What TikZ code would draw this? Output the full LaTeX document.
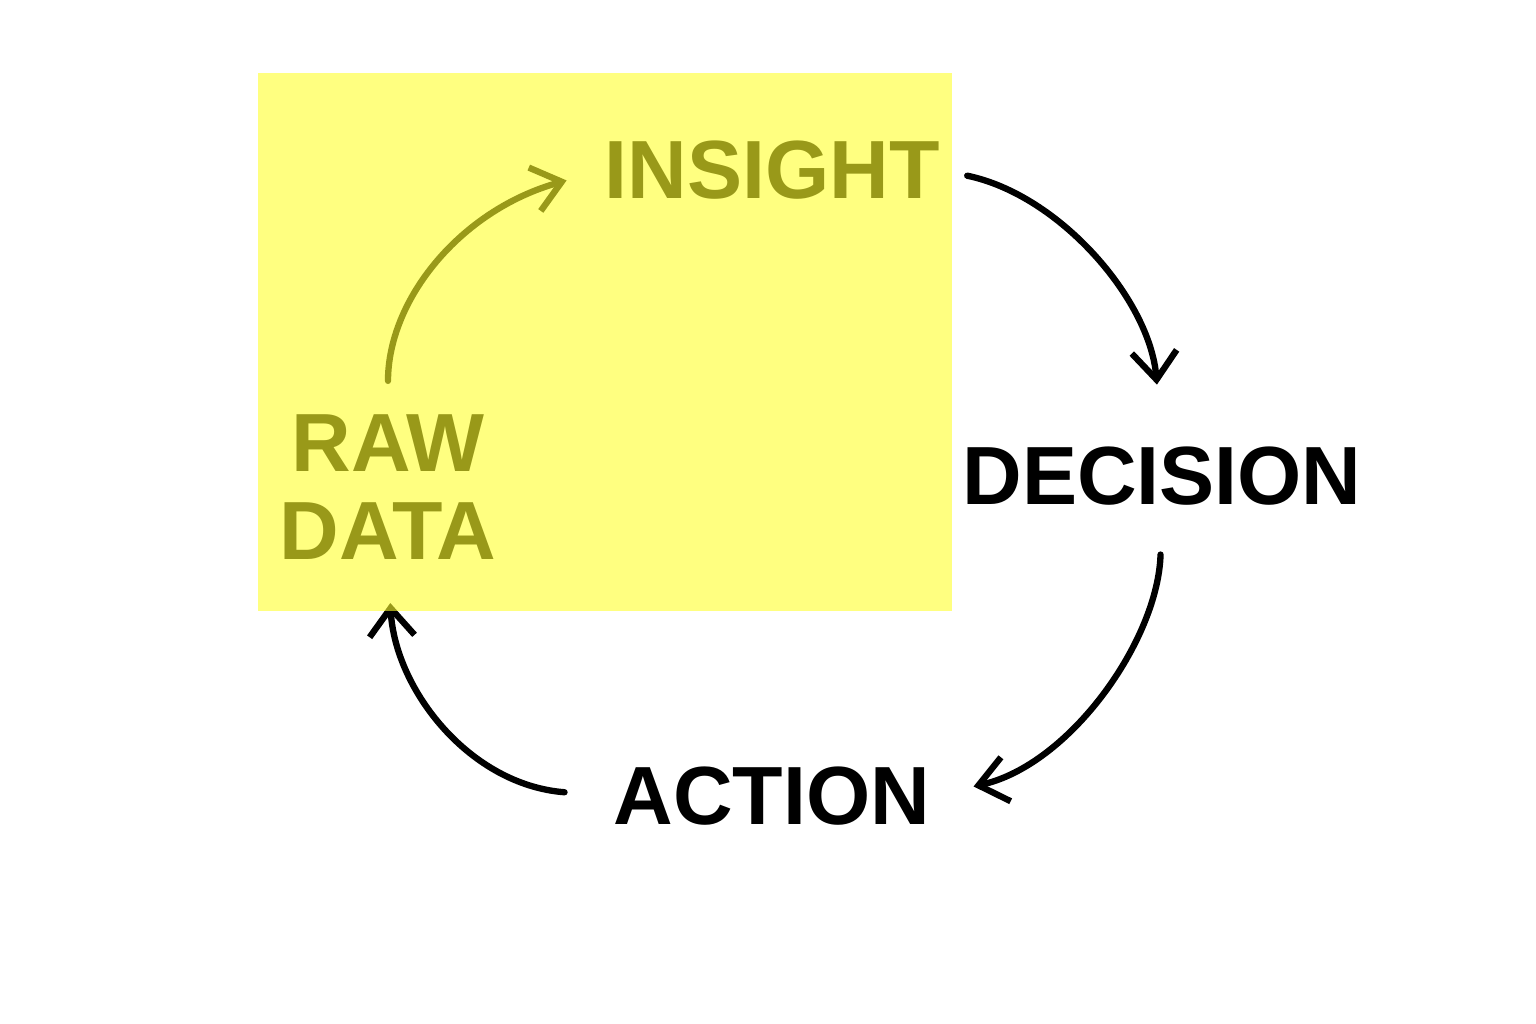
\documentclass[tikz,border=0pt]{standalone}
\usepackage{fontspec}
\setmainfont{Liberation Sans}
\usetikzlibrary{arrows.meta}
\definecolor{hilite}{rgb}{1,1,0.17}
\tikzset{
  word/.style={font=\fontsize{47}{50.5}\selectfont\bfseries, inner sep=0pt, align=center},
  flow/.style={line width=3.6pt, line cap=round, -{Straight Barb[length=0.56cm,width=0.9cm]}},
}
\begin{document}
\begin{tikzpicture}[x=0.02cm,y=-0.02cm]
\useasboundingbox (0,0) rectangle (1536,1024);

    \node[word] (insight) at (772,170) {INSIGHT};
    \node[word] (decision) at (1162,476) {DECISION};
    \node[word] (action) at (772,796) {ACTION};
    \node[word] (rawdata) at (388,487) {RAW\\DATA};

    \draw[flow, shorten <=0.56cm, shorten >=1.24cm] (insight.east) .. controls (1060,195) and (1150,300) .. (decision.north);
    \draw[flow, shorten <=0.98cm, shorten >=0.88cm] (decision.south) .. controls (1158,640) and (1070,765) .. (action.east);
    \draw[flow, shorten <=0.98cm, shorten >=0.86cm] (action.west) .. controls (470,785) and (395,690) .. (rawdata.south);
    \draw[flow, shorten <=0.66cm, shorten >=0.78cm] (rawdata.north) .. controls (388,300) and (460,210) .. (insight.west);

    % highlight laid over the top left part
    \fill[hilite, fill opacity=0.6] (258,73) rectangle (952,611);

\end{tikzpicture}
\end{document}
